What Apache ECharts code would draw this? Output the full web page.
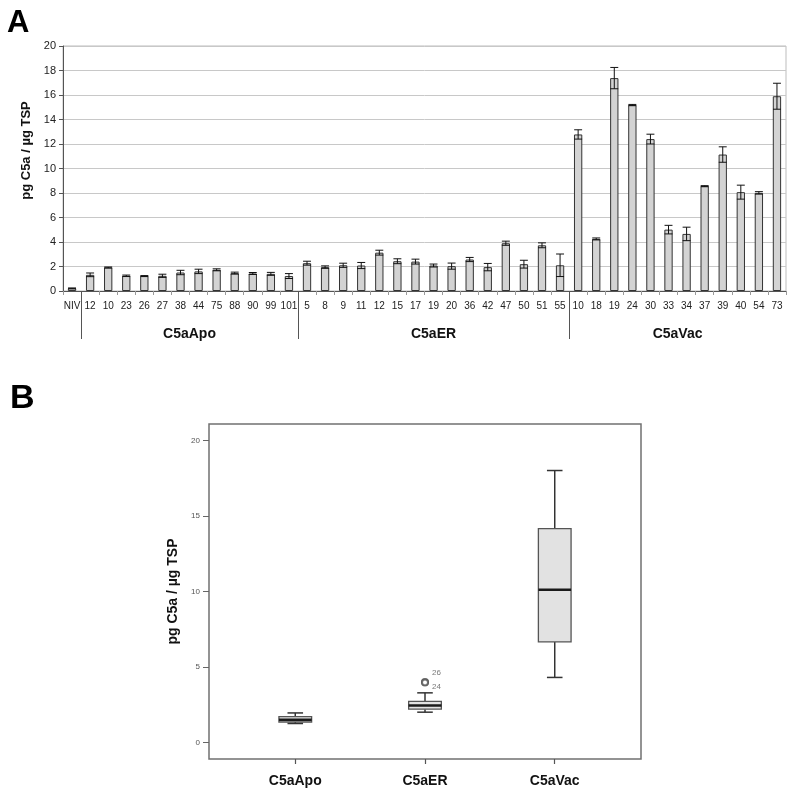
<!DOCTYPE html>
<html><head><meta charset="utf-8">
<script src="https://cdn.jsdelivr.net/npm/echarts@6/dist/echarts.min.js"></script>
<style>html,body{margin:0;padding:0;background:#fff}#c{width:790px;height:793px}</style>
</head><body><div id="c"></div>
<script>
// ---------- Panel A data ----------
const nivLabels = ['NIV'];
const apoLabels = ['12','10','23','26','27','38','44','75','88','90','99','101'];
const erLabels  = ['5','8','9','11','12','15','17','19','20','36','42','47','50','51','55'];
const vacLabels = ['10','18','19','24','30','33','34','37','39','40','54','73'];

const nivValues = [0.22];
const nivErrors = [0.03];
const apoValues = [1.32,1.92,1.24,1.22,1.24,1.51,1.60,1.73,1.46,1.43,1.40,1.22];
const apoErrors = [0.15,0.04,0.06,0.04,0.13,0.18,0.18,0.08,0.08,0.08,0.12,0.20];
const erValues  = [2.27,1.95,2.10,2.08,3.13,2.43,2.40,2.08,2.03,2.57,1.95,3.90,2.19,3.73,2.10];
const erErrors  = [0.16,0.10,0.17,0.25,0.20,0.20,0.20,0.12,0.25,0.17,0.30,0.17,0.32,0.20,0.92];
const vacValues = [12.78,4.25,17.38,15.18,12.40,5.01,4.66,8.56,11.14,8.07,8.01,15.90];
const vacErrors = [0.38,0.08,0.87,0.05,0.40,0.35,0.55,0.04,0.63,0.57,0.10,1.06];

const groupNames = ['C5aApo','C5aER','C5aVac'];
const yTicksA = [0,2,4,6,8,10,12,14,16,18,20];
const yTitle = 'pg C5a / µg TSP';

// ---------- Panel B data ----------
const boxCategories = ['C5aApo','C5aER','C5aVac'];
const boxApo = [1.25,1.35,1.50,1.70,1.95];   // min, Q1, median, Q3, max
const boxER  = [2.00,2.20,2.45,2.71,3.28];
const boxVac = [4.30,6.65,10.10,14.15,18.00];
const outlierValues = [4.00,3.96];
const outlierLabels = ['26','24'];
const yTicksB = [0,5,10,15,20];

// ---------- build ----------
const FONT = '"Liberation Sans", Arial, sans-serif';
const categories = [...nivLabels, ...apoLabels, ...erLabels, ...vacLabels];
const values = [...nivValues, ...apoValues, ...erValues, ...vacValues];
const errors = [...nivErrors, ...apoErrors, ...erErrors, ...vacErrors];
const groupSizes = [apoLabels.length, erLabels.length, vacLabels.length];
const sepPos = []; const centerPos = [];
let acc = nivLabels.length;
groupSizes.forEach(n => { sepPos.push(acc); centerPos.push(acc + n/2); acc += n; });
const N = categories.length;

const errData = values.map((v,i) => [i, v, errors[i]]);
const boxData = [boxApo, boxER, boxVac].map((b,i) => [i, ...b]);
const outlierData = outlierValues.map((v,i) => ({
  value: [boxCategories.indexOf('C5aER'), v],
  label: {show:true, formatter: outlierLabels[i], position:'right', distance:3,
          offset:[0, i === 0 ? -9 : 4], fontSize:8, color:'#555', fontFamily:FONT}
}));

const chart = echarts.init(document.getElementById('c'), null, {renderer:'canvas'});
chart.setOption({
  animation:false,
  backgroundColor:'#fff',
  title:[
    {text:'A', left:2, top:3, textStyle:{fontSize:31, fontWeight:'bold', color:'#000', fontFamily:FONT}},
    {text:'B', left:5, top:377, textStyle:{fontSize:34, fontWeight:'bold', color:'#000', fontFamily:FONT}}
  ],
  grid:[
    {left:63, top:46, width:723, height:245, show:true, borderColor:'#bdbdbd', borderWidth:1},
    {left:209, top:424, width:432, height:335, show:true, borderColor:'#707070', borderWidth:1.5}
  ],
  xAxis:[
    {gridIndex:0, type:'category', data:categories,
     axisLine:{onZero:false, lineStyle:{color:'#555', width:1}},
     axisTick:{show:true, interval:0, length:4, lineStyle:{color:'#999'}},
     axisLabel:{interval:0, fontSize:10, color:'#222', margin:10, fontFamily:FONT}},
    {gridIndex:0, type:'value', min:0, max:N, position:'bottom',
     axisLine:{show:false, onZero:false}, splitLine:{show:false},
     axisTick:{show:true, customValues:sepPos, length:48, lineStyle:{color:'#555', width:1}},
     axisLabel:{customValues:centerPos, margin:36, fontSize:14, fontWeight:'bold', color:'#111', fontFamily:FONT,
       formatter:v => { const k = centerPos.findIndex(c => Math.abs(c - v) < 1e-6); return k >= 0 ? groupNames[k] : ''; }}},
    {gridIndex:1, type:'value', min:-0.665, max:2.665, position:'bottom',
     axisLine:{show:false, onZero:false}, splitLine:{show:false},
     axisTick:{show:true, customValues:[0,1,2], length:5, lineStyle:{color:'#555', width:1.2}},
     axisLabel:{customValues:[0,1,2], margin:15, fontSize:14, fontWeight:'bold', color:'#111', fontFamily:FONT,
       formatter:v => boxCategories[Math.round(v)]}}
  ],
  yAxis:[
    {gridIndex:0, type:'value', min:yTicksA[0], max:yTicksA[yTicksA.length-1], interval:yTicksA[1]-yTicksA[0],
     axisLine:{show:true, onZero:false, lineStyle:{color:'#555'}},
     axisTick:{show:true, length:4, lineStyle:{color:'#555'}},
     splitLine:{show:true, lineStyle:{color:'#c8c8c8', width:1}},
     axisLabel:{fontSize:11, color:'#222', margin:7, fontFamily:FONT},
     name:yTitle, nameLocation:'middle', nameGap:23, nameRotate:90,
     nameTextStyle:{fontSize:13, fontWeight:'bold', color:'#111', fontFamily:FONT, padding:[0,0,0,36]}},
    {gridIndex:1, type:'value', min:-1.1, max:21.08, position:'left',
     axisLine:{show:false, onZero:false}, splitLine:{show:false},
     axisTick:{show:true, customValues:yTicksB, length:6, lineStyle:{color:'#666'}},
     axisLabel:{customValues:yTicksB, fontSize:8, color:'#555', margin:9, fontFamily:FONT},
     name:yTitle, nameLocation:'middle', nameGap:26, nameRotate:90,
     nameTextStyle:{fontSize:14, fontWeight:'bold', color:'#111', fontFamily:FONT}}
  ],
  series:[
    {type:'bar', xAxisIndex:0, yAxisIndex:0, data:values, barWidth:'46%',
     itemStyle:{color:'#d3d3d3', borderColor:'#333', borderWidth:1}},
    {type:'custom', xAxisIndex:0, yAxisIndex:0, data:errData, encode:{x:0, y:1}, z:5,
     renderItem:(params, api) => {
       const x = api.value(0), v = api.value(1), e = api.value(2);
       const t = api.coord([x, v+e]), b = api.coord([x, v-e]);
       const hw = api.size([1,0])[0]*0.22;
       const st = {stroke:'#111', lineWidth:1, fill:null};
       return {type:'group', children:[
         {type:'line', shape:{x1:t[0], y1:t[1], x2:b[0], y2:b[1]}, style:st},
         {type:'line', shape:{x1:t[0]-hw, y1:t[1], x2:t[0]+hw, y2:t[1]}, style:st},
         {type:'line', shape:{x1:b[0]-hw, y1:b[1], x2:b[0]+hw, y2:b[1]}, style:st}
       ]};
     }},
    {type:'custom', xAxisIndex:2, yAxisIndex:1, data:boxData, encode:{x:0, y:[1,2,3,4,5]},
     renderItem:(params, api) => {
       const x = api.value(0);
       const lo = api.value(1), q1 = api.value(2), md = api.value(3), q3 = api.value(4), hi = api.value(5);
       const unit = api.size([1,0])[0];
       const hb = unit*0.126, hc = unit*0.06;
       const cx = api.coord([x, md])[0];
       const Y = v => api.coord([x, v])[1];
       const wst = {stroke:'#333', lineWidth:1.5, fill:null};
       return {type:'group', children:[
         {type:'line', shape:{x1:cx, y1:Y(hi), x2:cx, y2:Y(q3)}, style:wst},
         {type:'line', shape:{x1:cx, y1:Y(q1), x2:cx, y2:Y(lo)}, style:wst},
         {type:'rect', shape:{x:cx-hb, y:Y(q3), width:2*hb, height:Y(q1)-Y(q3)}, style:{fill:'#e2e2e2', stroke:'#555', lineWidth:1.3}},
         {type:'line', shape:{x1:cx-hb, y1:Y(md), x2:cx+hb, y2:Y(md)}, style:{stroke:'#1a1a1a', lineWidth:2.5}},
         {type:'line', shape:{x1:cx-hc, y1:Y(hi), x2:cx+hc, y2:Y(hi)}, style:wst},
         {type:'line', shape:{x1:cx-hc, y1:Y(lo), x2:cx+hc, y2:Y(lo)}, style:wst}
       ]};
     }},
    {type:'scatter', xAxisIndex:2, yAxisIndex:1, data:outlierData, symbol:'emptyCircle', symbolSize:6,
     itemStyle:{color:'#555', borderColor:'#555', borderWidth:1.5}, z:6}
  ]
});
</script></body></html>
